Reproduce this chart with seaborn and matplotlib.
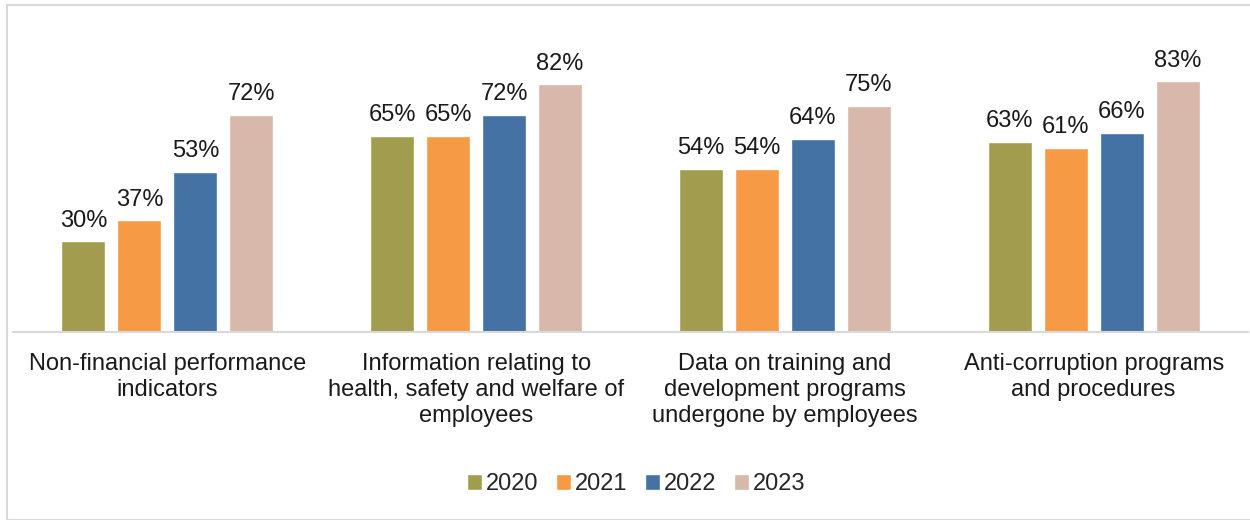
import pandas as pd
import seaborn as sns
import matplotlib.pyplot as plt
from matplotlib.patches import Rectangle

categories = [
    'Non-financial performance\nindicators',
    'Information relating to\nhealth, safety and welfare of\nemployees',
    'Data on training and\ndevelopment programs\nundergone by employees',
    'Anti-corruption programs\nand procedures',
]
years = ['2020', '2021', '2022', '2023']
values_2020 = [30, 65, 54, 63]
values_2021 = [37, 65, 54, 61]
values_2022 = [53, 72, 64, 66]
values_2023 = [72, 82, 75, 83]
colors = ['#A29D4E', '#F79A45', '#4472A4', '#D8B8AA']

rows = []
for year, vals in zip(years, [values_2020, values_2021, values_2022, values_2023]):
    for cat, v in zip(categories, vals):
        rows.append({'category': cat, 'year': year, 'value': v})
df = pd.DataFrame(rows)

sns.set_theme(style='white')
plt.rcParams['font.family'] = ['Liberation Sans', 'DejaVu Sans']

fig = plt.figure(figsize=(12.5, 5.2), dpi=100)
ax = fig.add_axes([13 / 1250, 1 - 332 / 520, 1235 / 1250, 302 / 520])

sns.barplot(data=df, x='category', y='value', hue='year', palette=colors,
            width=0.725, gap=0.214, saturation=1, ax=ax, legend=True)

for cont in ax.containers:
    ax.bar_label(cont, fmt='%d%%', padding=7, fontsize=17, color='#1a1a1a')

ax.set_ylim(0, 100)
ax.set_xlim(-0.5, 3.5)
ax.set_xlabel('')
ax.set_ylabel('')
ax.set_yticks([])
for s in ['top', 'right', 'left']:
    ax.spines[s].set_visible(False)
ax.spines['bottom'].set_color('#d9d9d9')
ax.spines['bottom'].set_linewidth(1.5)
ax.tick_params(axis='x', which='major', length=0, pad=15, labelsize=17, labelcolor='#1a1a1a')
ax.set_xticks([-0.5, 0.5, 1.5, 2.5, 3.5], minor=True)
ax.tick_params(axis='x', which='minor', length=5, width=1.5, color='#d9d9d9', direction='out')
for t in ax.get_xticklabels():
    t.set_linespacing(1.25)

handles, labels = ax.get_legend_handles_labels()
ax.legend_.remove()
fig.legend(handles, labels, loc='center', bbox_to_anchor=(636 / 1250, 1 - 484 / 520),
           ncol=4, frameon=False, fontsize=17, handlelength=0.65, handleheight=0.65,
           handletextpad=0.15, columnspacing=0.75)

fig.patches.append(Rectangle((7 / 1250, 0), 1.0, 1 - 5 / 520, transform=fig.transFigure,
                             fill=False, edgecolor='#d9d9d9', linewidth=1.5))

fig.savefig('out.png', dpi=100)
